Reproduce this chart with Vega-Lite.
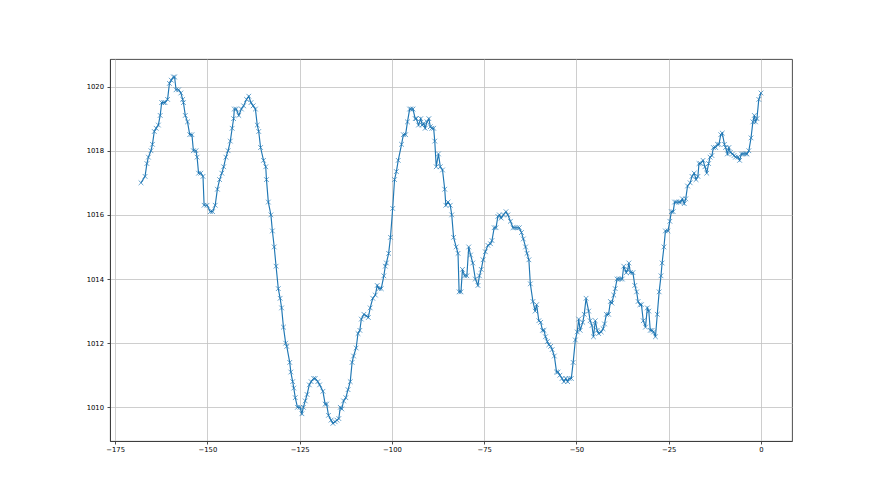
{
  "$schema": "https://vega.github.io/schema/vega-lite/v6.json",
  "width": 682,
  "height": 382,
  "autosize": {"type": "none"},
  "padding": {"left": 110, "top": 59, "right": 88, "bottom": 54},
  "background": "white",
  "config": {
    "view": {"stroke": "#3a3a3a", "strokeWidth": 0.9},
    "axis": {
      "domainColor": "#3a3a3a",
      "domainWidth": 0.9,
      "tickColor": "#3a3a3a",
      "tickWidth": 0.9,
      "tickSize": 3,
      "gridColor": "#c2c2c2",
      "gridWidth": 0.8,
      "labelFont": "DejaVu Sans",
      "labelFontSize": 6.8,
      "labelColor": "#000",
      "title": null
    }
  },
  "data": {
    "values": [
      {"hour": -168.0, "pressure": 1017.0}, {"hour": -166.9, "pressure": 1017.2}, {"hour": -166.4, "pressure": 1017.6},
      {"hour": -166.0, "pressure": 1017.8}, {"hour": -165.3, "pressure": 1018.0}, {"hour": -164.9, "pressure": 1018.2},
      {"hour": -164.4, "pressure": 1018.6}, {"hour": -163.9, "pressure": 1018.7}, {"hour": -163.3, "pressure": 1018.8},
      {"hour": -162.8, "pressure": 1019.1}, {"hour": -162.4, "pressure": 1019.5}, {"hour": -161.9, "pressure": 1019.5},
      {"hour": -161.5, "pressure": 1019.5}, {"hour": -160.8, "pressure": 1019.6}, {"hour": -160.3, "pressure": 1020.1},
      {"hour": -159.8, "pressure": 1020.2}, {"hour": -159.2, "pressure": 1020.3}, {"hour": -158.9, "pressure": 1020.3},
      {"hour": -158.5, "pressure": 1019.9}, {"hour": -157.8, "pressure": 1019.9}, {"hour": -157.2, "pressure": 1019.8},
      {"hour": -156.7, "pressure": 1019.6}, {"hour": -156.5, "pressure": 1019.5}, {"hour": -156.0, "pressure": 1019.1},
      {"hour": -155.4, "pressure": 1018.9}, {"hour": -154.8, "pressure": 1018.5}, {"hour": -154.2, "pressure": 1018.5},
      {"hour": -153.8, "pressure": 1018.0}, {"hour": -153.1, "pressure": 1018.0}, {"hour": -152.8, "pressure": 1017.8},
      {"hour": -152.4, "pressure": 1017.3}, {"hour": -151.8, "pressure": 1017.3}, {"hour": -151.2, "pressure": 1017.2},
      {"hour": -150.9, "pressure": 1016.3}, {"hour": -150.1, "pressure": 1016.3}, {"hour": -149.2, "pressure": 1016.1},
      {"hour": -148.6, "pressure": 1016.1}, {"hour": -147.9, "pressure": 1016.3}, {"hour": -147.3, "pressure": 1016.8},
      {"hour": -146.7, "pressure": 1017.1}, {"hour": -146.1, "pressure": 1017.3}, {"hour": -145.6, "pressure": 1017.5},
      {"hour": -145.0, "pressure": 1017.8}, {"hour": -144.4, "pressure": 1018.0}, {"hour": -143.8, "pressure": 1018.3},
      {"hour": -143.3, "pressure": 1018.7}, {"hour": -142.9, "pressure": 1019.0}, {"hour": -142.7, "pressure": 1019.3},
      {"hour": -142.2, "pressure": 1019.3}, {"hour": -141.5, "pressure": 1019.1}, {"hour": -140.8, "pressure": 1019.3},
      {"hour": -140.2, "pressure": 1019.4}, {"hour": -139.4, "pressure": 1019.6}, {"hour": -138.8, "pressure": 1019.7},
      {"hour": -138.2, "pressure": 1019.5}, {"hour": -137.6, "pressure": 1019.4}, {"hour": -137.0, "pressure": 1019.3},
      {"hour": -136.5, "pressure": 1018.8}, {"hour": -136.1, "pressure": 1018.6}, {"hour": -135.6, "pressure": 1018.1},
      {"hour": -134.8, "pressure": 1017.7}, {"hour": -134.2, "pressure": 1017.5}, {"hour": -134.0, "pressure": 1017.1},
      {"hour": -133.5, "pressure": 1016.4}, {"hour": -132.8, "pressure": 1016.0}, {"hour": -132.4, "pressure": 1015.5},
      {"hour": -131.9, "pressure": 1015.0}, {"hour": -131.4, "pressure": 1014.4}, {"hour": -130.8, "pressure": 1013.7},
      {"hour": -130.3, "pressure": 1013.4}, {"hour": -129.9, "pressure": 1013.1}, {"hour": -129.4, "pressure": 1012.5},
      {"hour": -128.8, "pressure": 1012.0}, {"hour": -128.5, "pressure": 1011.9}, {"hour": -127.7, "pressure": 1011.4},
      {"hour": -127.4, "pressure": 1011.1}, {"hour": -126.9, "pressure": 1010.8}, {"hour": -126.6, "pressure": 1010.6},
      {"hour": -126.2, "pressure": 1010.3}, {"hour": -125.6, "pressure": 1010.0}, {"hour": -124.9, "pressure": 1010.0},
      {"hour": -124.4, "pressure": 1009.8}, {"hour": -124.0, "pressure": 1010.0}, {"hour": -123.5, "pressure": 1010.2},
      {"hour": -123.0, "pressure": 1010.4}, {"hour": -122.4, "pressure": 1010.7}, {"hour": -121.9, "pressure": 1010.8},
      {"hour": -121.2, "pressure": 1010.9}, {"hour": -120.8, "pressure": 1010.9}, {"hour": -120.1, "pressure": 1010.8},
      {"hour": -119.6, "pressure": 1010.7}, {"hour": -118.7, "pressure": 1010.5}, {"hour": -118.1, "pressure": 1010.1},
      {"hour": -117.7, "pressure": 1010.1}, {"hour": -117.2, "pressure": 1009.75}, {"hour": -116.5, "pressure": 1009.6},
      {"hour": -116.0, "pressure": 1009.5}, {"hour": -115.4, "pressure": 1009.55}, {"hour": -114.9, "pressure": 1009.6},
      {"hour": -114.4, "pressure": 1009.65}, {"hour": -114.0, "pressure": 1010.0}, {"hour": -113.6, "pressure": 1009.95},
      {"hour": -113.1, "pressure": 1010.2}, {"hour": -112.5, "pressure": 1010.3}, {"hour": -111.9, "pressure": 1010.55},
      {"hour": -111.3, "pressure": 1010.8}, {"hour": -110.8, "pressure": 1011.4}, {"hour": -110.4, "pressure": 1011.6},
      {"hour": -109.7, "pressure": 1011.85}, {"hour": -109.2, "pressure": 1012.3}, {"hour": -108.7, "pressure": 1012.4},
      {"hour": -108.3, "pressure": 1012.75}, {"hour": -107.6, "pressure": 1012.9}, {"hour": -106.9, "pressure": 1012.85},
      {"hour": -106.4, "pressure": 1012.8}, {"hour": -105.9, "pressure": 1013.1}, {"hour": -105.2, "pressure": 1013.4},
      {"hour": -104.5, "pressure": 1013.5}, {"hour": -104.0, "pressure": 1013.8}, {"hour": -103.5, "pressure": 1013.7},
      {"hour": -102.9, "pressure": 1013.7}, {"hour": -102.2, "pressure": 1014.1}, {"hour": -101.8, "pressure": 1014.4},
      {"hour": -101.5, "pressure": 1014.5}, {"hour": -100.9, "pressure": 1014.8}, {"hour": -100.4, "pressure": 1015.3},
      {"hour": -99.8, "pressure": 1016.2}, {"hour": -99.3, "pressure": 1017.1}, {"hour": -98.8, "pressure": 1017.35},
      {"hour": -98.3, "pressure": 1017.7}, {"hour": -97.4, "pressure": 1018.2}, {"hour": -96.9, "pressure": 1018.5},
      {"hour": -96.3, "pressure": 1018.5}, {"hour": -95.8, "pressure": 1018.9}, {"hour": -95.2, "pressure": 1019.3},
      {"hour": -94.8, "pressure": 1019.3}, {"hour": -94.3, "pressure": 1019.3}, {"hour": -93.7, "pressure": 1019.0},
      {"hour": -93.4, "pressure": 1019.0}, {"hour": -92.8, "pressure": 1018.8}, {"hour": -92.2, "pressure": 1019.0},
      {"hour": -91.8, "pressure": 1018.8}, {"hour": -91.4, "pressure": 1018.85}, {"hour": -91.0, "pressure": 1018.7},
      {"hour": -90.5, "pressure": 1018.9}, {"hour": -90.0, "pressure": 1019.0}, {"hour": -89.6, "pressure": 1018.75},
      {"hour": -89.2, "pressure": 1018.7}, {"hour": -88.7, "pressure": 1018.7}, {"hour": -88.4, "pressure": 1018.3},
      {"hour": -88.0, "pressure": 1017.5}, {"hour": -87.4, "pressure": 1017.9}, {"hour": -86.9, "pressure": 1017.5},
      {"hour": -86.3, "pressure": 1017.4}, {"hour": -85.7, "pressure": 1016.8}, {"hour": -85.4, "pressure": 1016.3},
      {"hour": -84.8, "pressure": 1016.4}, {"hour": -84.2, "pressure": 1016.3}, {"hour": -83.8, "pressure": 1016.0},
      {"hour": -83.3, "pressure": 1015.3}, {"hour": -82.6, "pressure": 1015.0}, {"hour": -82.1, "pressure": 1014.8},
      {"hour": -81.8, "pressure": 1013.6}, {"hour": -81.3, "pressure": 1013.6}, {"hour": -80.9, "pressure": 1014.3},
      {"hour": -80.3, "pressure": 1014.1}, {"hour": -79.7, "pressure": 1014.1}, {"hour": -79.2, "pressure": 1015.0},
      {"hour": -78.7, "pressure": 1014.75}, {"hour": -78.1, "pressure": 1014.5}, {"hour": -77.4, "pressure": 1014.0},
      {"hour": -76.7, "pressure": 1013.8}, {"hour": -76.3, "pressure": 1014.1}, {"hour": -75.8, "pressure": 1014.3},
      {"hour": -75.3, "pressure": 1014.6}, {"hour": -74.7, "pressure": 1014.85}, {"hour": -74.0, "pressure": 1015.05},
      {"hour": -73.3, "pressure": 1015.1}, {"hour": -72.9, "pressure": 1015.2}, {"hour": -72.3, "pressure": 1015.6},
      {"hour": -71.8, "pressure": 1015.6}, {"hour": -71.3, "pressure": 1015.95}, {"hour": -70.9, "pressure": 1016.0},
      {"hour": -70.4, "pressure": 1015.9}, {"hour": -69.8, "pressure": 1016.0}, {"hour": -69.1, "pressure": 1016.1},
      {"hour": -68.6, "pressure": 1016.0}, {"hour": -67.9, "pressure": 1015.8}, {"hour": -67.2, "pressure": 1015.6},
      {"hour": -66.7, "pressure": 1015.6}, {"hour": -66.1, "pressure": 1015.6}, {"hour": -65.5, "pressure": 1015.6},
      {"hour": -64.9, "pressure": 1015.45}, {"hour": -64.4, "pressure": 1015.25}, {"hour": -63.8, "pressure": 1015.0},
      {"hour": -63.4, "pressure": 1014.8}, {"hour": -62.9, "pressure": 1014.6}, {"hour": -62.5, "pressure": 1013.85},
      {"hour": -61.8, "pressure": 1013.3}, {"hour": -61.2, "pressure": 1013.0}, {"hour": -60.8, "pressure": 1013.2},
      {"hour": -60.2, "pressure": 1012.7}, {"hour": -59.7, "pressure": 1012.65}, {"hour": -59.2, "pressure": 1012.4},
      {"hour": -58.8, "pressure": 1012.4}, {"hour": -58.4, "pressure": 1012.2}, {"hour": -57.9, "pressure": 1012.05},
      {"hour": -57.5, "pressure": 1011.95}, {"hour": -57.0, "pressure": 1011.9}, {"hour": -56.6, "pressure": 1011.8},
      {"hour": -56.0, "pressure": 1011.6}, {"hour": -55.4, "pressure": 1011.1}, {"hour": -55.0, "pressure": 1011.1},
      {"hour": -54.5, "pressure": 1011.0}, {"hour": -53.9, "pressure": 1010.9}, {"hour": -53.4, "pressure": 1010.8},
      {"hour": -52.9, "pressure": 1010.9}, {"hour": -52.4, "pressure": 1010.8}, {"hour": -52.0, "pressure": 1010.9},
      {"hour": -51.4, "pressure": 1010.9}, {"hour": -50.9, "pressure": 1011.4}, {"hour": -50.3, "pressure": 1012.1},
      {"hour": -49.8, "pressure": 1012.35}, {"hour": -49.4, "pressure": 1012.75}, {"hour": -49.0, "pressure": 1012.4},
      {"hour": -48.3, "pressure": 1012.65}, {"hour": -47.9, "pressure": 1012.9}, {"hour": -47.4, "pressure": 1013.4},
      {"hour": -46.7, "pressure": 1013.0}, {"hour": -46.3, "pressure": 1012.7}, {"hour": -45.8, "pressure": 1012.55},
      {"hour": -45.4, "pressure": 1012.2}, {"hour": -44.9, "pressure": 1012.7}, {"hour": -44.4, "pressure": 1012.4},
      {"hour": -44.0, "pressure": 1012.3}, {"hour": -43.3, "pressure": 1012.35}, {"hour": -42.8, "pressure": 1012.45},
      {"hour": -42.4, "pressure": 1012.6}, {"hour": -41.9, "pressure": 1012.9}, {"hour": -41.3, "pressure": 1012.9},
      {"hour": -40.8, "pressure": 1013.3}, {"hour": -40.4, "pressure": 1013.25}, {"hour": -39.9, "pressure": 1013.5},
      {"hour": -39.5, "pressure": 1013.7}, {"hour": -39.0, "pressure": 1014.0}, {"hour": -38.6, "pressure": 1014.0},
      {"hour": -38.1, "pressure": 1014.0}, {"hour": -37.6, "pressure": 1014.0}, {"hour": -37.2, "pressure": 1014.4},
      {"hour": -36.5, "pressure": 1014.2}, {"hour": -36.1, "pressure": 1014.3}, {"hour": -35.8, "pressure": 1014.5},
      {"hour": -35.4, "pressure": 1014.2}, {"hour": -34.7, "pressure": 1014.2}, {"hour": -34.2, "pressure": 1013.8},
      {"hour": -33.7, "pressure": 1013.6}, {"hour": -33.3, "pressure": 1013.3}, {"hour": -32.8, "pressure": 1013.2},
      {"hour": -32.4, "pressure": 1013.2}, {"hour": -31.9, "pressure": 1012.7}, {"hour": -31.3, "pressure": 1012.5},
      {"hour": -30.8, "pressure": 1013.1}, {"hour": -30.4, "pressure": 1013.0}, {"hour": -30.0, "pressure": 1012.4},
      {"hour": -29.5, "pressure": 1012.4}, {"hour": -29.1, "pressure": 1012.35}, {"hour": -28.6, "pressure": 1012.2},
      {"hour": -28.1, "pressure": 1012.9}, {"hour": -27.6, "pressure": 1013.6}, {"hour": -27.1, "pressure": 1014.1},
      {"hour": -26.8, "pressure": 1014.5}, {"hour": -26.3, "pressure": 1015.0}, {"hour": -25.9, "pressure": 1015.5},
      {"hour": -25.2, "pressure": 1015.5}, {"hour": -24.7, "pressure": 1015.8}, {"hour": -24.3, "pressure": 1016.1},
      {"hour": -23.8, "pressure": 1016.1}, {"hour": -23.4, "pressure": 1016.4}, {"hour": -22.9, "pressure": 1016.4},
      {"hour": -22.2, "pressure": 1016.4}, {"hour": -21.8, "pressure": 1016.4}, {"hour": -21.3, "pressure": 1016.5},
      {"hour": -20.8, "pressure": 1016.35}, {"hour": -20.4, "pressure": 1016.5}, {"hour": -19.9, "pressure": 1016.9},
      {"hour": -19.2, "pressure": 1017.0}, {"hour": -18.7, "pressure": 1017.2}, {"hour": -18.1, "pressure": 1017.3},
      {"hour": -17.6, "pressure": 1017.1}, {"hour": -17.1, "pressure": 1017.2}, {"hour": -16.8, "pressure": 1017.6},
      {"hour": -16.4, "pressure": 1017.6}, {"hour": -15.7, "pressure": 1017.7}, {"hour": -15.2, "pressure": 1017.5},
      {"hour": -14.7, "pressure": 1017.3}, {"hour": -14.2, "pressure": 1017.6}, {"hour": -13.8, "pressure": 1017.8},
      {"hour": -13.3, "pressure": 1017.85}, {"hour": -12.9, "pressure": 1018.1}, {"hour": -12.3, "pressure": 1018.1},
      {"hour": -11.8, "pressure": 1018.2}, {"hour": -11.4, "pressure": 1018.2}, {"hour": -10.9, "pressure": 1018.5},
      {"hour": -10.5, "pressure": 1018.55}, {"hour": -9.9, "pressure": 1018.2}, {"hour": -9.6, "pressure": 1018.1},
      {"hour": -9.1, "pressure": 1017.9}, {"hour": -8.7, "pressure": 1018.1}, {"hour": -8.3, "pressure": 1017.95},
      {"hour": -7.7, "pressure": 1017.9}, {"hour": -7.3, "pressure": 1017.85}, {"hour": -6.9, "pressure": 1017.8},
      {"hour": -6.2, "pressure": 1017.8}, {"hour": -5.8, "pressure": 1017.7}, {"hour": -5.3, "pressure": 1017.9},
      {"hour": -4.8, "pressure": 1017.9}, {"hour": -4.2, "pressure": 1017.9}, {"hour": -3.8, "pressure": 1017.9},
      {"hour": -3.3, "pressure": 1018.0}, {"hour": -2.7, "pressure": 1018.4}, {"hour": -2.2, "pressure": 1018.9},
      {"hour": -1.8, "pressure": 1019.1}, {"hour": -1.5, "pressure": 1018.9}, {"hour": -1.1, "pressure": 1019.0},
      {"hour": -0.6, "pressure": 1019.6}, {"hour": 0.0, "pressure": 1019.8}
    ]
  },
  "encoding": {
    "x": {
      "field": "hour",
      "type": "quantitative",
      "scale": {"domain": [-176.4, 8.4], "nice": false, "zero": false},
      "axis": {
        "values": [-175, -150, -125, -100, -75, -50, -25, 0],
        "format": "d",
        "labelExpr": "replace(datum.label, '-', '\u2212')",
        "labelPadding": 2,
        "labelFlush": false
      }
    },
    "y": {
      "field": "pressure",
      "type": "quantitative",
      "scale": {"domain": [1008.95, 1020.86], "nice": false, "zero": false},
      "axis": {
        "values": [1010, 1012, 1014, 1016, 1018, 1020],
        "format": "d",
        "labelPadding": 3.5
      }
    }
  },
  "layer": [
    {
      "mark": {"type": "line", "color": "#1f77b4", "strokeWidth": 1.15, "clip": true}
    },
    {
      "mark": {
        "type": "point",
        "shape": "M-1,-1L1,1M-1,1L1,-1",
        "filled": false,
        "stroke": "#1f77b4",
        "strokeWidth": 0.75,
        "size": 22,
        "opacity": 0.9,
        "clip": true
      }
    }
  ]
}
